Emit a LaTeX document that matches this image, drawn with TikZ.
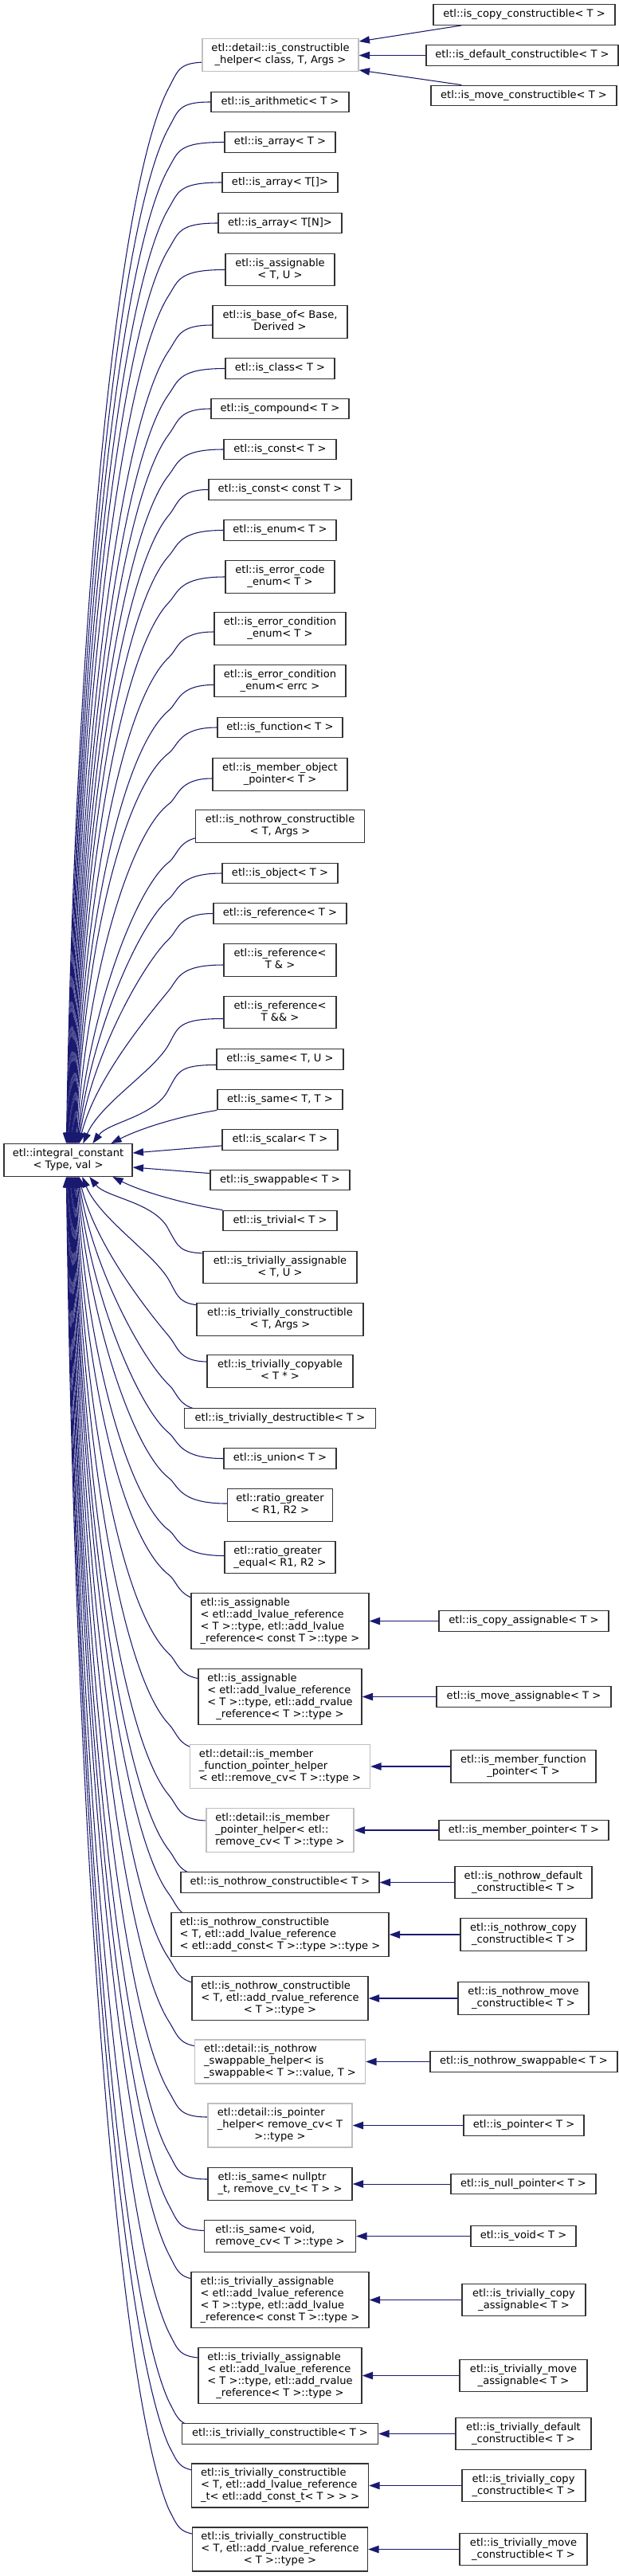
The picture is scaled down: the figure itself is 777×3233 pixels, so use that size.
\documentclass[tikz,border=0pt]{standalone}
\usepackage{fontspec}
\setmainfont{DejaVu Sans}
\usetikzlibrary{calc,arrows.meta}
\pgfdeclarelayer{bg}
\pgfdeclarelayer{edgelayer}
\pgfsetlayers{bg,edgelayer,main}
\definecolor{edgeblue}{HTML}{191970}
\definecolor{boxborder}{HTML}{333333}
\definecolor{greyborder}{HTML}{BFBFBF}
\newcommand\twol[2]{\begin{tabular}{@{}l@{}}#1\\\multicolumn{1}{@{}c@{}}{#2}\end{tabular}}
\newcommand\threel[3]{\begin{tabular}{@{}l@{}}#1\\#2\\\multicolumn{1}{@{}c@{}}{#3}\end{tabular}}
\newcommand\fourl[4]{\begin{tabular}{@{}l@{}}#1\\#2\\#3\\\multicolumn{1}{@{}c@{}}{#4}\end{tabular}}
\newcommand\nd[7][]{\node[box,#1,minimum width={#5*0.75pt},minimum height={#6*0.75pt}] (#2) at (#3,#4) {#7};}
% generic edge: node, west x, centre y, exit dy, end x, sign (1 = base below, -1 = base above), base y
\newcommand\gedge[7]{%
 \pgfmathsetmacro\eXv{max(#2,262)}%
 \pgfmathsetmacro\eDx{\eXv-#2}%
 \pgfmathsetmacro\eYv{#3+#4}%
 \pgfmathsetmacro\eDrop{min(32,0.3*abs(#7-\eYv))}%
 \pgfmathsetmacro\eYb{\eYv+#6*\eDrop}%
 \pgfmathsetmacro\eD{abs(#7-\eYb)}%
 \pgfmathsetmacro\eW{212-#5}%
 \pgfmathsetmacro\eS{max(0,min(1,(\eD-100)/400))}%
 \pgfmathsetmacro\eOx{16*(1-\eS)+0.5*\eW*\eS}%
 \pgfmathsetmacro\eOy{35*(1-\eS)+0.09*\eD*\eS}%
 \pgfmathsetmacro\eR{min(12*\eOy/\eOx,0.7*\eDrop)}%
 \pgfmathsetmacro\eYa{\eYb-#6*\eR}%
 \pgfmathsetmacro\eXc{212-\eOx}%
 \pgfmathsetmacro\eYc{\eYb+#6*\eOy}%
 \pgfmathsetmacro\eXd{#5+(0.2*(1-\eS)+0.08*\eS)*\eW}%
 \pgfmathsetmacro\eYd{\eYb+#6*(0.6*(1-\eS)+0.5*\eS)*\eD}%
 \pgfmathsetmacro\eXe{#5-5}%
 \ifnum#6>0
 \draw[edge] ($(#1.west)+(\eDx,#4)$) .. controls (224,\eYv) and (224,\eYa) .. (212,\eYb) .. controls (\eXc,\eYc) and (\eXd,\eYd) .. ($(ic.north west)+(\eXe,0)$);%
 \else
 \draw[edge] ($(#1.west)+(\eDx,#4)$) .. controls (224,\eYv) and (224,\eYa) .. (212,\eYb) .. controls (\eXc,\eYc) and (\eXd,\eYd) .. ($(ic.south west)+(\eXe,0)$);%
 \fi
}
\newcommand\tedge[5]{\gedge{#1}{#2}{#3}{#4}{#5}{1}{1436}}
\newcommand\bedge[5]{\gedge{#1}{#2}{#3}{#4}{#5}{-1}{1476}}
\begin{document}
\begin{tikzpicture}[x=0.75pt,y=-0.75pt,
  box/.style={draw=boxborder,line width=1pt,fill=white,inner sep=0pt,font=\fontsize{9.8}{11.25}\selectfont},
  grey/.style={draw=greyborder},
  edge/.style={draw=edgeblue,line width=0.8pt,-{Triangle[length=10pt,width=7pt]}}]
\begin{pgfonlayer}{bg}
\fill[white] (0,0) rectangle (777,3233);
\end{pgfonlayer}
\useasboundingbox (0,0) rectangle (777,3233);

% main base
\nd{ic}{85.5}{1456}{161}{40.5}{\twol{etl::integral\_constant}{< Type, val >}}

% helper with children
\nd[grey]{H1}{352}{69}{196}{40.5}{\twol{etl::detail::is\_constructible}{\_helper< class, T, Args >}}
\nd{cc}{658}{18.5}{228}{25.5}{etl::is\_copy\_constructible< T >}
\nd{dc}{655.5}{69.5}{241}{25.5}{etl::is\_default\_constructible< T >}
\nd{mc}{657.5}{120}{233}{25.5}{etl::is\_move\_constructible< T >}

% middle column, above
\nd{m1}{351.5}{128}{173}{25.5}{etl::is\_arithmetic< T >}
\nd{m2}{351.5}{178.5}{139}{25.5}{etl::is\_array< T >}
\nd{m3}{351.5}{229}{145}{25.5}{etl::is\_array< T[]>}
\nd{m4}{351.5}{280}{155}{25.5}{etl::is\_array< T[N]>}
\nd{m5}{351.5}{338.5}{137}{40.5}{\twol{etl::is\_assignable}{< T, U >}}
\nd{m6}{351.5}{404}{169}{40.5}{\twol{etl::is\_base\_of< Base,}{Derived >}}
\nd{m7}{351.5}{462.5}{137}{25.5}{etl::is\_class< T >}
\nd{m8}{351.5}{513}{173}{25.5}{etl::is\_compound< T >}
\nd{m9}{351.5}{564}{141}{25.5}{etl::is\_const< T >}
\nd{m10}{351.5}{614.5}{179}{25.5}{etl::is\_const< const T >}
\nd{m11}{351.5}{665.5}{141}{25.5}{etl::is\_enum< T >}
\nd{m12}{351.5}{724}{137}{40.5}{\twol{etl::is\_error\_code}{\_enum< T >}}
\nd{m13}{351.5}{789}{165}{40.5}{\twol{etl::is\_error\_condition}{\_enum< T >}}
\nd{m14}{351.5}{854.5}{165}{40.5}{\twol{etl::is\_error\_condition}{\_enum< errc >}}
\nd{m15}{351.5}{913}{157}{25.5}{etl::is\_function< T >}
\nd{m16}{351.5}{972}{169}{40.5}{\twol{etl::is\_member\_object}{\_pointer< T >}}
\nd{m17}{351.5}{1037}{212}{40.5}{\twol{etl::is\_nothrow\_constructible}{< T, Args >}}
\nd{m18}{351.5}{1096}{145}{25.5}{etl::is\_object< T >}
\nd{m19}{351.5}{1146.5}{167}{25.5}{etl::is\_reference< T >}
\nd{m20}{351.5}{1205}{141}{40.5}{\twol{etl::is\_reference<}{T \& >}}
\nd{m21}{351.5}{1270.5}{141}{40.5}{\twol{etl::is\_reference<}{T \&\& >}}
\nd{m22}{351.5}{1329.5}{159}{25.5}{etl::is\_same< T, U >}
\nd{m23}{351.5}{1380}{157}{25.5}{etl::is\_same< T, T >}
\nd{m24}{351.5}{1430.5}{145}{25.5}{etl::is\_scalar< T >}
% middle column, below
\nd{m25}{351.5}{1481}{175}{25.5}{etl::is\_swappable< T >}
\nd{m26}{351.5}{1532}{143}{25.5}{etl::is\_trivial< T >}
\nd{m27}{351.5}{1590.5}{193}{40.5}{\twol{etl::is\_trivially\_assignable}{< T, U >}}
\nd{m28}{351.5}{1656}{209}{40.5}{\twol{etl::is\_trivially\_constructible}{< T, Args >}}
\nd{m29}{351.5}{1721}{183}{40.5}{\twol{etl::is\_trivially\_copyable}{< T * >}}
\nd{m30}{351.5}{1780}{240}{25.5}{etl::is\_trivially\_destructible< T >}
\nd{m31}{351.5}{1830.5}{141}{25.5}{etl::is\_union< T >}
\nd{m32}{351.5}{1889}{132}{40.5}{\twol{etl::ratio\_greater}{< R1, R2 >}}
\nd{m33}{351.5}{1954.5}{139}{40.5}{\twol{etl::ratio\_greater}{\_equal< R1, R2 >}}
\nd{m34}{351.5}{2034.5}{223}{69.5}{\fourl{etl::is\_assignable}{< etl::add\_lvalue\_reference}{< T >::type, etl::add\_lvalue}{\_reference< const T >::type >}}
\nd{m35}{351.5}{2129.5}{205}{69.5}{\fourl{etl::is\_assignable}{< etl::add\_lvalue\_reference}{< T >::type, etl::add\_rvalue}{\_reference< T >::type >}}
\nd[grey]{m36}{351.5}{2217}{226}{55}{\threel{etl::detail::is\_member}{\_function\_pointer\_helper}{< etl::remove\_cv< T >::type >}}
\nd[grey]{m37}{351.5}{2297}{185}{55}{\threel{etl::detail::is\_member}{\_pointer\_helper< etl::}{remove\_cv< T >::type >}}
\nd{m38}{351.5}{2362.5}{249}{25.5}{etl::is\_nothrow\_constructible< T >}
\nd{m39}{351.5}{2428}{273}{55}{\threel{etl::is\_nothrow\_constructible}{< T, etl::add\_lvalue\_reference}{< etl::add\_const< T >::type >::type >}}
\nd{m40}{351.5}{2508}{221}{55}{\threel{etl::is\_nothrow\_constructible}{< T, etl::add\_rvalue\_reference}{< T >::type >}}
\nd[grey]{m41}{351.5}{2587.5}{214}{55}{\threel{etl::detail::is\_nothrow}{\_swappable\_helper< is}{\_swappable< T >::value, T >}}
\nd[grey]{m42}{351.5}{2667.5}{181}{55}{\threel{etl::detail::is\_pointer}{\_helper< remove\_cv< T}{>::type >}}
\nd{m43}{351.5}{2741}{181}{40.5}{\twol{etl::is\_same< nullptr}{\_t, remove\_cv\_t< T > >}}
\nd{m44}{351.5}{2806.5}{190}{40.5}{\twol{etl::is\_same< void,}{remove\_cv< T >::type >}}
\nd{m45}{351.5}{2886.5}{223}{69.5}{\fourl{etl::is\_trivially\_assignable}{< etl::add\_lvalue\_reference}{< T >::type, etl::add\_lvalue}{\_reference< const T >::type >}}
\nd{m46}{351.5}{2981.5}{205}{69.5}{\fourl{etl::is\_trivially\_assignable}{< etl::add\_lvalue\_reference}{< T >::type, etl::add\_rvalue}{\_reference< T >::type >}}
\nd{m47}{351.5}{3054.5}{246}{25.5}{etl::is\_trivially\_constructible< T >}
\nd{m48}{351.5}{3119.5}{222}{55}{\threel{etl::is\_trivially\_constructible}{< T, etl::add\_lvalue\_reference}{\_t< etl::add\_const\_t< T > > >}}
\nd{m49}{351.5}{3199.5}{220}{55}{\threel{etl::is\_trivially\_constructible}{< T, etl::add\_rvalue\_reference}{< T >::type >}}

% right column
\nd{r34}{657.5}{2034.5}{213}{25.5}{etl::is\_copy\_assignable< T >}
\nd{r35}{657.5}{2129.5}{219}{25.5}{etl::is\_move\_assignable< T >}
\nd{r36}{657}{2217}{182}{40.5}{\twol{etl::is\_member\_function}{\_pointer< T >}}
\nd{r37}{657.5}{2297}{213}{25.5}{etl::is\_member\_pointer< T >}
\nd{r38}{657}{2362.5}{172}{40.5}{\twol{etl::is\_nothrow\_default}{\_constructible< T >}}
\nd{r39}{657}{2428}{158}{40.5}{\twol{etl::is\_nothrow\_copy}{\_constructible< T >}}
\nd{r40}{657}{2508}{164}{40.5}{\twol{etl::is\_nothrow\_move}{\_constructible< T >}}
\nd{r41}{657.5}{2587.5}{235}{25.5}{etl::is\_nothrow\_swappable< T >}
\nd{r42}{657.5}{2667.5}{151}{25.5}{etl::is\_pointer< T >}
\nd{r43}{657}{2741}{182}{25.5}{etl::is\_null\_pointer< T >}
\nd{r44}{657}{2806.5}{132}{25.5}{etl::is\_void< T >}
\nd{r45}{657.5}{2886.5}{155}{40.5}{\twol{etl::is\_trivially\_copy}{\_assignable< T >}}
\nd{r46}{657}{2981.5}{160}{40.5}{\twol{etl::is\_trivially\_move}{\_assignable< T >}}
\nd{r47}{657}{3054.5}{170}{40.5}{\twol{etl::is\_trivially\_default}{\_constructible< T >}}
\nd{r48}{657.5}{3119.5}{155}{40.5}{\twol{etl::is\_trivially\_copy}{\_constructible< T >}}
\nd{r49}{657}{3199.5}{160}{40.5}{\twol{etl::is\_trivially\_move}{\_constructible< T >}}

\begin{pgfonlayer}{edgelayer}
% helper children
\draw[edge] ($(cc.south west)+(36,0)$) -- ($(H1.east)+(0,-17)$);
\draw[edge] (dc.west) -- (H1.east |- dc.west);
\draw[edge] ($(mc.north west)+(39,0)$) -- ($(H1.east)+(0,19)$);
% right column to middle
\foreach \i in {34,...,49}{
  \draw[edge] (r\i.west) -- (m\i.east |- r\i.west);
}
% top edges to base
\tedge{H1}{254}{69}{9}{84}
\tedge{m1}{265}{128}{0}{84.8}
\tedge{m2}{282}{178.5}{0}{85.6}
\tedge{m3}{279}{229}{0}{86.4}
\tedge{m4}{274}{280}{0}{87.2}
\tedge{m5}{283}{338.5}{0}{88}
\tedge{m6}{267}{404}{4}{88.8}
\tedge{m7}{283}{462.5}{0}{89.6}
\tedge{m8}{265}{513}{0}{90.4}
\tedge{m9}{281}{564}{0}{91.2}
\tedge{m10}{262}{614.5}{0}{92}
\tedge{m11}{281}{665.5}{0}{92.8}
\tedge{m12}{283}{724}{0}{93.6}
\tedge{m13}{269}{789}{4}{94.4}
\tedge{m14}{269}{854.5}{5}{95.2}
\tedge{m15}{273}{913}{0}{96}
\tedge{m16}{267}{972}{5}{96.8}
\tedge{m17}{245.5}{1037}{13}{97.6}
\tedge{m18}{279}{1096}{0}{98.4}
\tedge{m19}{268}{1146.5}{0}{99.2}
\tedge{m20}{281}{1205}{6}{100}
\tedge{m21}{281}{1270.5}{8}{105}
\tedge{m22}{272}{1329.5}{7}{117}
\draw[edge] (m23.south west) .. controls +(-50,8) and +(35,-18) .. ($(ic.north west)+(135,0)$);
% side edges
\draw[edge] ($(m24.south west)+(0,-6)$) -- ($(ic.east)+(0,-9)$);
\draw[edge] ($(m25.north west)+(0,5)$) -- ($(ic.east)+(0,9)$);
% bottom edges
\draw[edge] (m26.north west) .. controls +(-50,-8) and +(35,18) .. ($(ic.south west)+(137,0)$);
\bedge{m27}{255}{1590.5}{-17.5}{113}
\bedge{m28}{247}{1656}{-17.5}{104}
\bedge{m29}{260}{1721}{-12}{100}
\bedge{m30}{231.5}{1780}{-10}{99}
\bedge{m31}{281}{1830.5}{0}{98.2}
\bedge{m32}{285.5}{1889}{-2}{97.4}
\bedge{m33}{282}{1954.5}{-2}{96.6}
\bedge{m34}{240}{2034.5}{-26}{95.8}
\bedge{m35}{249}{2129.5}{-22}{95}
\bedge{m36}{238.5}{2217}{-21}{94.2}
\bedge{m37}{259}{2297}{-12}{93.4}
\bedge{m38}{227}{2362.5}{-8.5}{92.6}
\bedge{m39}{215}{2428}{-19}{91.8}
\bedge{m40}{241}{2508}{-18}{91}
\bedge{m41}{244.5}{2587.5}{-18.5}{90.2}
\bedge{m42}{261}{2667.5}{-10.5}{89.4}
\bedge{m43}{261}{2741}{-6}{88.6}
\bedge{m44}{256.5}{2806.5}{-7}{87.8}
\bedge{m45}{240}{2886.5}{-25}{87}
\bedge{m46}{249}{2981.5}{-22}{86.2}
\bedge{m47}{228.5}{3054.5}{-8.5}{85.4}
\bedge{m48}{240.5}{3119.5}{-18}{84.6}
\bedge{m49}{241.5}{3199.5}{-18}{84}
\end{pgfonlayer}
\end{tikzpicture}
\end{document}
